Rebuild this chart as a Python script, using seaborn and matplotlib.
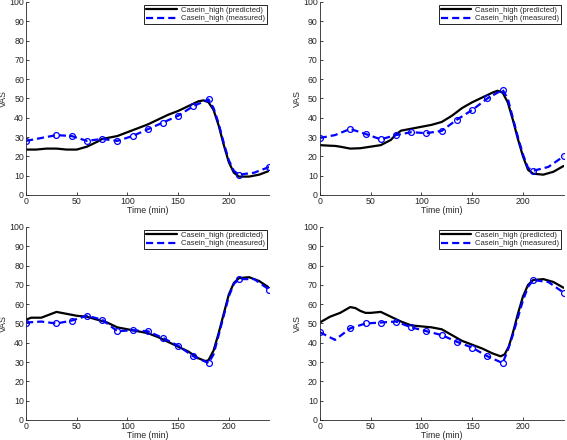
import matplotlib
matplotlib.use("Agg")
import matplotlib.pyplot as plt
import seaborn as sns
import pandas as pd

sns.set_style("ticks")
plt.rcParams['font.family'] = ['Liberation Sans', 'DejaVu Sans']

# ---- data ----
pred_t = [[0, 10, 20, 30, 40, 50, 60, 70, 75, 80, 90, 100, 110, 120, 130, 140, 150, 160, 170, 175, 180, 185, 190, 195, 200, 205, 210, 220, 230, 240],
          [0, 10, 15, 20, 30, 40, 50, 60, 70, 75, 80, 90, 100, 110, 120, 130, 140, 150, 160, 170, 175, 180, 185, 190, 195, 200, 205, 210, 220, 230, 240],
          [0, 5, 10, 15, 20, 30, 40, 50, 60, 70, 80, 90, 100, 110, 120, 130, 140, 150, 160, 170, 177, 180, 185, 190, 195, 200, 205, 210, 220, 230, 240],
          [0, 10, 20, 30, 35, 40, 45, 50, 60, 70, 80, 90, 100, 110, 120, 130, 140, 150, 160, 170, 178, 182, 186, 190, 195, 200, 205, 210, 220, 230, 240]]
pred_v = [[23.5, 23.5, 24, 24, 23.5, 23.5, 25, 27.5, 29, 29.5, 30.5, 32.5, 34.5, 36.5, 39, 41.5, 43.5, 46, 48.5, 49, 48, 44, 36, 26, 17, 11.5, 9.5, 9.5, 10.5, 12.5],
          [25.8, 25.5, 25.4, 25, 24, 24.2, 25, 25.8, 28.5, 31.4, 33.3, 34.3, 35.3, 36.3, 37.8, 41, 45, 48, 50.5, 53, 54, 53, 48, 39, 29, 20, 13, 11, 10.5, 12, 15],
          [52, 53, 53, 53, 54, 56, 55, 54, 53.5, 52, 50.5, 48, 47, 46, 45, 43, 40.5, 38, 35.5, 32, 30.5, 31, 36, 45, 55, 65, 71, 73.5, 74, 72, 68.5],
          [50.5, 53.5, 55.5, 58.5, 58, 56.5, 55.5, 55.5, 56, 53.5, 51, 49, 48.5, 48, 47, 44, 41, 39, 37, 34.5, 33, 34, 38, 45, 55, 64, 70, 72.5, 73, 71.5, 68.5]]

meas_t = [0, 15, 30, 45, 60, 75, 90, 105, 120, 135, 150, 165, 180, 185, 190, 195, 200, 205, 210, 225, 240]
meas_v = [[28, 29.5, 31, 30.5, 28, 29, 28, 30.5, 34, 37.5, 41, 46, 49.5, 45, 37, 27, 18, 12.5, 10.5, 11.5, 14.5],
          [29.5, 31, 34.2, 31.6, 28.8, 31, 32.5, 32, 33.2, 39, 44, 50, 54.5, 50, 40, 30, 21, 14, 12.5, 14.5, 20],
          [50.5, 51, 50, 51.5, 54, 52, 46, 46.5, 46, 42.5, 38.5, 33, 29.5, 34, 44, 54, 64, 70.5, 73, 73, 67.5],
          [45.5, 41.5, 47.5, 50, 50.5, 51, 48, 46, 44, 40.5, 37.5, 33, 29.5, 36, 44, 53, 62, 69, 72.5, 71.5, 66]]
marker_t = [0, 30, 45, 60, 75, 90, 105, 120, 135, 150, 165, 180, 210, 240]

xticks = [0, 50, 100, 150, 200]
yticks = list(range(0, 101, 10))

fig = plt.figure(figsize=(5.67, 4.40), dpi=100)
positions = [[0.046, 0.557, 0.429, 0.4386],
             [0.564, 0.557, 0.430, 0.4386],
             [0.046, 0.0455, 0.429, 0.4386],
             [0.564, 0.0455, 0.430, 0.4386]]

for i in range(4):
    ax = fig.add_axes(positions[i])
    dp = pd.DataFrame({"t": pred_t[i], "v": pred_v[i]})
    dm = pd.DataFrame({"t": meas_t, "v": meas_v[i]})
    dk = dm[dm["t"].isin(marker_t)]
    sns.lineplot(data=dp, x="t", y="v", ax=ax, color="black", lw=1.6,
                 label="Casein_high (predicted)")
    sns.lineplot(data=dm, x="t", y="v", ax=ax, color="#0000ff", lw=1.6,
                 dashes=False, linestyle=(0, (3.2, 1.8)),
                 label="Casein_high (measured)")
    ax.plot(dk["t"], dk["v"], ls="none", marker="o", ms=4.2, mfc="none",
            mec="#0000ff", mew=0.9)
    ax.set_xlim(0, 240)
    ax.set_ylim(0, 100)
    ax.set_xticks(xticks)
    ax.set_yticks(yticks)
    ax.tick_params(direction="in", length=2.5, width=0.6, labelsize=6.3, pad=1.5)
    for s in ["top", "right"]:
        ax.spines[s].set_visible(False)
    for s in ["left", "bottom"]:
        ax.spines[s].set_linewidth(0.6)
    ax.set_xlabel("Time (min)", fontsize=6.3, labelpad=0)
    ax.set_ylabel("VAS", fontsize=6.3, labelpad=1)
    leg = ax.legend(loc="upper right", fontsize=5.5, frameon=True, fancybox=False,
                    edgecolor="black", framealpha=1, handlelength=4.0,
                    borderpad=0.25, labelspacing=0.15, handletextpad=0.5,
                    borderaxespad=0.35)
    leg.get_frame().set_linewidth(0.6)

fig.savefig("out.png", dpi=100)
